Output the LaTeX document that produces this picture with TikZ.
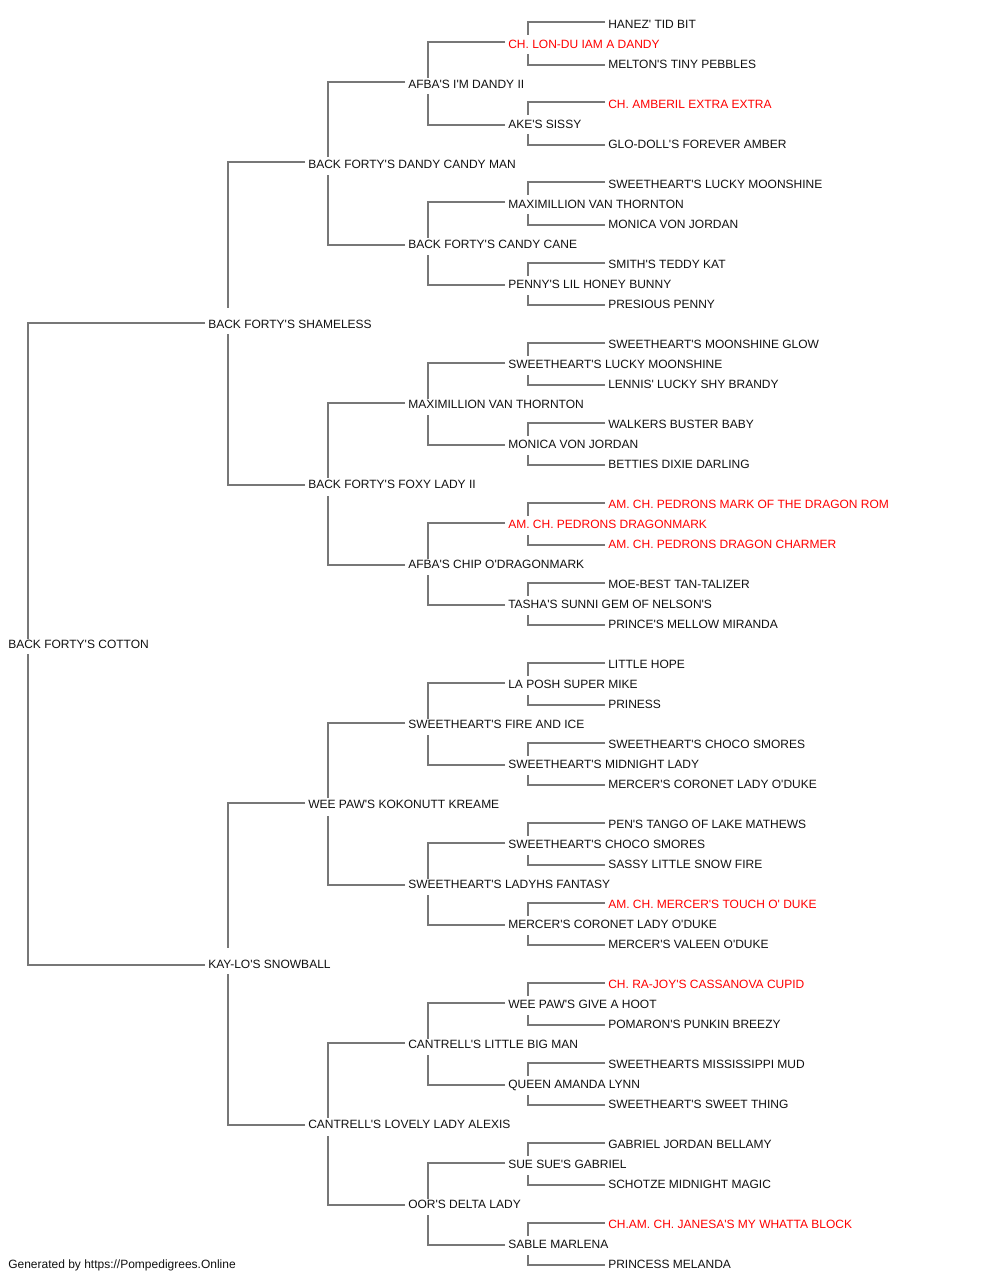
\documentclass[tikz,border=0pt]{standalone}
\usepackage{fontspec}
\setmainfont{Liberation Sans}[Ligatures=TeXOff]
\usetikzlibrary{calc}
\definecolor{pedgray}{RGB}{119,119,119}
\definecolor{pedblack}{RGB}{17,17,17}
\definecolor{pedredc}{RGB}{255,0,0}
\tikzset{
  pedtext/.style={anchor=base west, inner sep=0pt, font=\fontsize{9}{10}\selectfont, text=pedblack},
  pedred/.style={pedtext, text=pedredc},
  pedline/.style={draw=pedgray, line width=1.5pt}
}
\newcommand\pn[4]{\node[pedtext] (#1) at (#2,#3+5.3) {#4};}
\newcommand\pr[4]{\node[pedred] (#1) at (#2,#3+5.3) {#4};}
% parent, top child, bottom child, top gap, bottom gap
\newcommand\conn[5]{%
  \draw[pedline] ($(#2.base west)+(-3,-5.8)$) -| ($(#1.base west)+(20,-4.8-#4)$);
  \draw[pedline] ($(#3.base west)+(-3,-3.3)$) -| ($(#1.base west)+(20,-4.8+#5)$);
}
\begin{document}
\begin{tikzpicture}[x=0.75pt,y=-0.75pt]
\useasboundingbox[fill=white] (0,0) rectangle (1000,1280);
% generation 0
\pn{r}{8}{643}{BACK FORTY'S COTTON}
% generation 1
\pn{a}{208}{323}{BACK FORTY'S SHAMELESS}
\pn{b}{208}{963}{KAY-LO'S SNOWBALL}
% generation 2
\pn{aa}{308}{163}{BACK FORTY'S DANDY CANDY MAN}
\pn{ab}{308}{483}{BACK FORTY'S FOXY LADY II}
\pn{ba}{308}{803}{WEE PAW'S KOKONUTT KREAME}
\pn{bb}{308}{1123}{CANTRELL'S LOVELY LADY ALEXIS}
% generation 3
\pn{aaa}{408}{83}{AFBA'S I'M DANDY II}
\pn{aab}{408}{243}{BACK FORTY'S CANDY CANE}
\pn{aba}{408}{403}{MAXIMILLION VAN THORNTON}
\pn{abb}{408}{563}{AFBA'S CHIP O'DRAGONMARK}
\pn{baa}{408}{723}{SWEETHEART'S FIRE AND ICE}
\pn{bab}{408}{883}{SWEETHEART'S LADYHS FANTASY}
\pn{bba}{408}{1043}{CANTRELL'S LITTLE BIG MAN}
\pn{bbb}{408}{1203}{OOR'S DELTA LADY}
% generation 4
\pr{aaaa}{508}{43}{CH. LON-DU IAM A DANDY}
\pn{aaab}{508}{123}{AKE'S SISSY}
\pn{aaba}{508}{203}{MAXIMILLION VAN THORNTON}
\pn{aabb}{508}{283}{PENNY'S LIL HONEY BUNNY}
\pn{abaa}{508}{363}{SWEETHEART'S LUCKY MOONSHINE}
\pn{abab}{508}{443}{MONICA VON JORDAN}
\pr{abba}{508}{523}{AM. CH. PEDRONS DRAGONMARK}
\pn{abbb}{508}{603}{TASHA'S SUNNI GEM OF NELSON'S}
\pn{baaa}{508}{683}{LA POSH SUPER MIKE}
\pn{baab}{508}{763}{SWEETHEART'S MIDNIGHT LADY}
\pn{baba}{508}{843}{SWEETHEART'S CHOCO SMORES}
\pn{babb}{508}{923}{MERCER'S CORONET LADY O'DUKE}
\pn{bbaa}{508}{1003}{WEE PAW'S GIVE A HOOT}
\pn{bbab}{508}{1083}{QUEEN AMANDA LYNN}
\pn{bbba}{508}{1163}{SUE SUE'S GABRIEL}
\pn{bbbb}{508}{1243}{SABLE MARLENA}
% generation 5
\pn{aaaaa}{608}{23}{HANEZ' TID BIT}
\pn{aaaab}{608}{63}{MELTON'S TINY PEBBLES}
\pr{aaaba}{608}{103}{CH. AMBERIL EXTRA EXTRA}
\pn{aaabb}{608}{143}{GLO-DOLL'S FOREVER AMBER}
\pn{aabaa}{608}{183}{SWEETHEART'S LUCKY MOONSHINE}
\pn{aabab}{608}{223}{MONICA VON JORDAN}
\pn{aabba}{608}{263}{SMITH'S TEDDY KAT}
\pn{aabbb}{608}{303}{PRESIOUS PENNY}
\pn{abaaa}{608}{343}{SWEETHEART'S MOONSHINE GLOW}
\pn{abaab}{608}{383}{LENNIS' LUCKY SHY BRANDY}
\pn{ababa}{608}{423}{WALKERS BUSTER BABY}
\pn{ababb}{608}{463}{BETTIES DIXIE DARLING}
\pr{abbaa}{608}{503}{AM. CH. PEDRONS MARK OF THE DRAGON ROM}
\pr{abbab}{608}{543}{AM. CH. PEDRONS DRAGON CHARMER}
\pn{abbba}{608}{583}{MOE-BEST TAN-TALIZER}
\pn{abbbb}{608}{623}{PRINCE'S MELLOW MIRANDA}
\pn{baaaa}{608}{663}{LITTLE HOPE}
\pn{baaab}{608}{703}{PRINESS}
\pn{baaba}{608}{743}{SWEETHEART'S CHOCO SMORES}
\pn{baabb}{608}{783}{MERCER'S CORONET LADY O'DUKE}
\pn{babaa}{608}{823}{PEN'S TANGO OF LAKE MATHEWS}
\pn{babab}{608}{863}{SASSY LITTLE SNOW FIRE}
\pr{babba}{608}{903}{AM. CH. MERCER'S TOUCH O' DUKE}
\pn{babbb}{608}{943}{MERCER'S VALEEN O'DUKE}
\pr{bbaaa}{608}{983}{CH. RA-JOY'S CASSANOVA CUPID}
\pn{bbaab}{608}{1023}{POMARON'S PUNKIN BREEZY}
\pn{bbaba}{608}{1063}{SWEETHEARTS MISSISSIPPI MUD}
\pn{bbabb}{608}{1103}{SWEETHEART'S SWEET THING}
\pn{bbbaa}{608}{1143}{GABRIEL JORDAN BELLAMY}
\pn{bbbab}{608}{1183}{SCHOTZE MIDNIGHT MAGIC}
\pr{bbbba}{608}{1223}{CH.AM. CH. JANESA'S MY WHATTA BLOCK}
\pn{bbbbb}{608}{1263}{PRINCESS MELANDA}
% footer
\pn{foot}{8}{1263}{Generated by https://Pompedigrees.Online}
% connectors
\conn{r}{a}{b}{5}{10}
\conn{a}{aa}{ab}{16}{10}
\conn{b}{ba}{bb}{16}{10}
\foreach \p in {aa,ab,ba,bb}{\conn{\p}{\p a}{\p b}{6}{12}}
\foreach \p in {aaa,aab,aba,abb,baa,bab,bba,bbb}{\conn{\p}{\p a}{\p b}{5}{11}}
\foreach \p in {aaaa,aaab,aaba,aabb,abaa,abab,abba,abbb,baaa,baab,baba,babb,bbaa,bbab,bbba,bbbb}{\conn{\p}{\p a}{\p b}{8}{11}}
\end{tikzpicture}
\end{document}
